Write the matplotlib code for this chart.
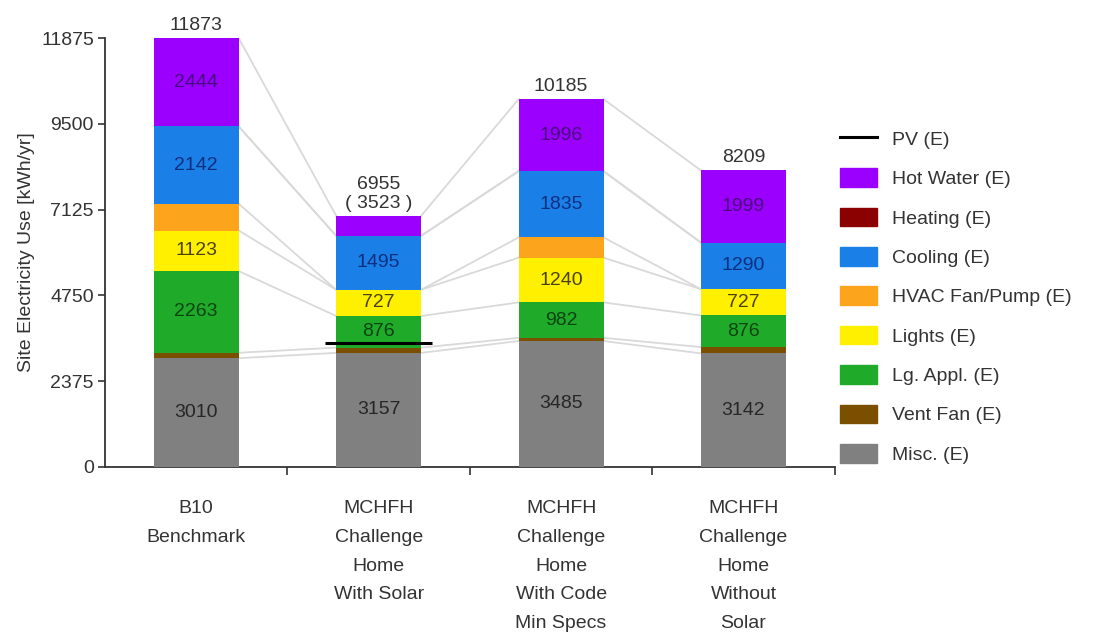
import matplotlib
matplotlib.use("Agg")
import matplotlib.pyplot as plt
import numpy as np
from matplotlib.patches import Patch
from matplotlib.lines import Line2D

plt.rcParams['font.family'] = ['Liberation Sans', 'DejaVu Sans']

# Kategorie (warianty domu) i zużycie energii w kWh/rok, od dołu stosu do góry
categories = ["B10\nBenchmark",
              "MCHFH\nChallenge\nHome\nWith Solar",
              "MCHFH\nChallenge\nHome\nWith Code\nMin Specs",
              "MCHFH\nChallenge\nHome\nWithout\nSolar"]

misc = [3010, 3157, 3485, 3142]
vent_fan = [150, 145, 87, 175]
lg_appl = [2263, 876, 982, 876]
lights = [1123, 727, 1240, 727]
hvac_fan = [741, 0, 560, 0]
cooling = [2142, 1495, 1835, 1290]
heating = [0, 0, 0, 0]
hot_water = [2444, 555, 1996, 1999]
pv = [0, 3432, 0, 0]

y_ticks = [0, 2375, 4750, 7125, 9500, 11875]

series = [
    ("Misc. (E)", misc, "#808080", "#262626", True),
    ("Vent Fan (E)", vent_fan, "#7a5000", None, False),
    ("Lg. Appl. (E)", lg_appl, "#1faa2a", "#0b4410", True),
    ("Lights (E)", lights, "#fff000", "#4a4200", True),
    ("HVAC Fan/Pump (E)", hvac_fan, "#fca51c", None, False),
    ("Cooling (E)", cooling, "#1a80e8", "#0d2f80", True),
    ("Heating (E)", heating, "#8b0000", None, False),
    ("Hot Water (E)", hot_water, "#9b00ff", "#4a0a80", True),
]

fig = plt.figure(figsize=(10.94, 6.36), dpi=100)
ax = fig.add_axes([0.096, 0.266, 0.667, 0.674])

x = np.arange(len(categories))
width = 0.466
bottom = np.zeros(len(categories))
levels = [bottom.copy()]

for name, vals, col, tcol, show in series:
    vals = np.array(vals, dtype=float)
    ax.bar(x, vals, width, bottom=bottom, color=col, zorder=3, linewidth=0)
    if show:
        for i, v in enumerate(vals):
            if v > 600:
                ax.text(x[i], bottom[i] + v / 2, f"{int(v)}", ha='center', va='center',
                        fontsize=14, color=tcol, zorder=4)
    bottom = bottom + vals
    levels.append(bottom.copy())

# szare linie łączące granice segmentów sąsiednich słupków
for lev in levels[1:]:
    for i in range(len(categories) - 1):
        ax.plot([x[i] + width / 2, x[i + 1] - width / 2], [lev[i], lev[i + 1]],
                color="#d9d9d9", lw=1.3, zorder=2)

totals = levels[-1]
for i, t in enumerate(totals):
    txt = f"{int(t)}"
    if pv[i] > 0:
        txt += f"\n( {int(t - pv[i])} )"
        # linia PV
        ax.plot([x[i] - width / 2 - 0.06, x[i] + width / 2 + 0.06], [pv[i], pv[i]],
                color="black", lw=2.2, zorder=5, solid_capstyle='butt')
    ax.annotate(txt, (x[i], t), xytext=(0, 3), textcoords='offset points',
                ha='center', va='bottom', fontsize=14, color="#333333",
                linespacing=1.1, annotation_clip=False)

ax.set_xlim(-0.5, len(categories) - 0.5)
ax.set_ylim(0, 11875)
ax.set_yticks(y_ticks)
ax.set_yticklabels([str(t) for t in y_ticks], fontsize=14, color="#333333")
ax.set_xticks(x)
ax.set_xticklabels(categories, fontsize=14, color="#333333", linespacing=1.9, va='top')
ax.set_xticks(np.arange(0.5, len(categories), 1.0), minor=True)
ax.tick_params(axis='x', which='major', length=0, pad=24)
ax.tick_params(axis='x', which='minor', length=6, width=1.2, color="#333333")
ax.tick_params(axis='y', length=5, width=1.2, color="#333333", pad=3)

for s in ['top', 'right']:
    ax.spines[s].set_visible(False)
for s in ['left', 'bottom']:
    ax.spines[s].set_linewidth(1.3)
    ax.spines[s].set_color("#333333")

ax.set_ylabel("Site Electricity Use [kWh/yr]", fontsize=14, color="#333333", labelpad=4)

handles = [Line2D([0], [0], color="black", lw=2.2)]
labels = ["PV (E)"]
for name, vals, col, tcol, show in reversed(series):
    handles.append(Patch(facecolor=col, edgecolor=col))
    labels.append(name)

fig.legend(handles, labels, loc='upper left', bbox_to_anchor=(0.752, 0.825),
           frameon=False, fontsize=14, handlelength=1.9, handleheight=1.1,
           labelspacing=1.0, handletextpad=0.75, labelcolor="#333333")

fig.savefig("out.png", dpi=100)
